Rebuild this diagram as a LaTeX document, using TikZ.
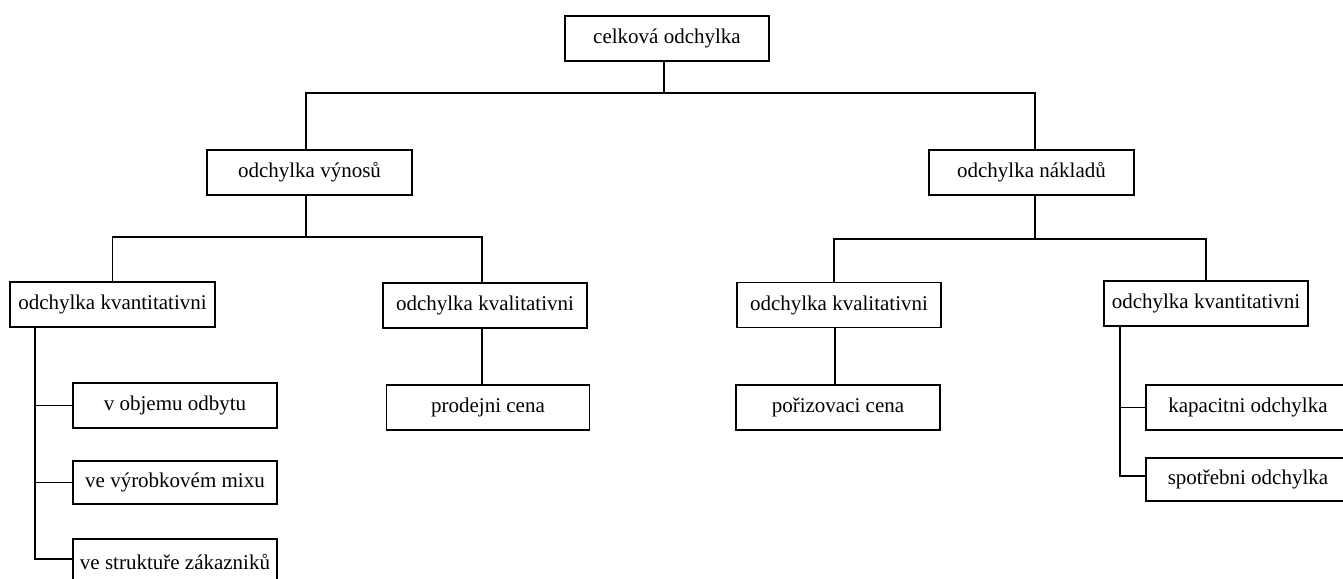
\documentclass[tikz,border=0pt]{standalone}
\usepackage{fontspec}
\setmainfont{Liberation Serif}
\begin{document}
\begin{tikzpicture}[x=1pt,y=-1pt,
  box/.style={draw, line width=1.2pt, minimum width=204pt, minimum height=45pt,
    inner sep=0pt, font=\fontsize{21}{24}\selectfont},
  link/.style={line width=1.2pt}]
\clip (0,0) rectangle (1343,578);
\useasboundingbox (0,0) rectangle (1343,578);

% root
\node[box] (top) at (667,38.5) {celková odchylka};

% second level
\node[box, minimum width=205pt] (vyn) at (309.5,172.5) {odchylka výnosů};
\node[box, minimum width=205pt] (nak) at (1031.5,172.5) {odchylka nákladů};

% third level
\node[box, minimum width=205pt] (lkvant) at (112.5,304.5) {odchylka kvantitativni};
\node[box] (lkval) at (485,305.5) {odchylka kvalitativni};
\node[box] (rkval) at (839,305) {odchylka kvalitativni};
\node[box] (rkvant) at (1206,303.5) {odchylka kvantitativni};

% leaves
\node[box, minimum width=203pt] (prod) at (488,407.5) {prodejni cena};
\node[box] (poriz) at (838,407.5) {pořizovaci cena};

\node[box] (l1) at (175,405.5) {v objemu odbytu};
\node[box, minimum height=43pt] (l2) at (175,482.5) {ve výrobkovém mixu};
\node[box] (l3) at (175,561.5) {ve struktuře zákazniků};

\node[box] (r1) at (1248,407.5) {kapacitni odchylka};
\node[box, minimum height=43pt] (r2) at (1248,479.5) {spotřebni odchylka};

% junction points
\coordinate (j0) at (664,93);
\coordinate (j1) at (306,237);
\coordinate (j2) at (1035,239);
\coordinate (ls) at (35,327);
\coordinate (rs) at (1120,326);

% connectors
\draw[link] (top.south -| j0) -- (j0);
\draw[link] (vyn.north -| j1) |- (j0) -| (nak.north -| j2);

\draw[link] (vyn.south -| j1) -- (j1);
\draw[link] (lkvant.north) |- (j1) -| ([xshift=-3pt]lkval.north);

\draw[link] (nak.south -| j2) -- (j2);
\draw[link] ([xshift=-5pt]rkval.north) |- (j2) -| (rkvant.north);

\draw[link] ([xshift=-3pt]lkval.south) -- ([xshift=-3pt]lkval.south |- prod.north);
\draw[link] ([xshift=-4pt]rkval.south) -- ([xshift=-4pt]rkval.south |- poriz.north);

\draw[link] (ls) |- (l1.west);
\draw[link] (ls) |- (l2.west);
\draw[link] (ls) |- ([yshift=2.5pt]l3.west);

\draw[link] (rs) |- (r1.west);
\draw[link] (rs) |- ([yshift=3.5pt]r2.west);
\end{tikzpicture}
\end{document}
